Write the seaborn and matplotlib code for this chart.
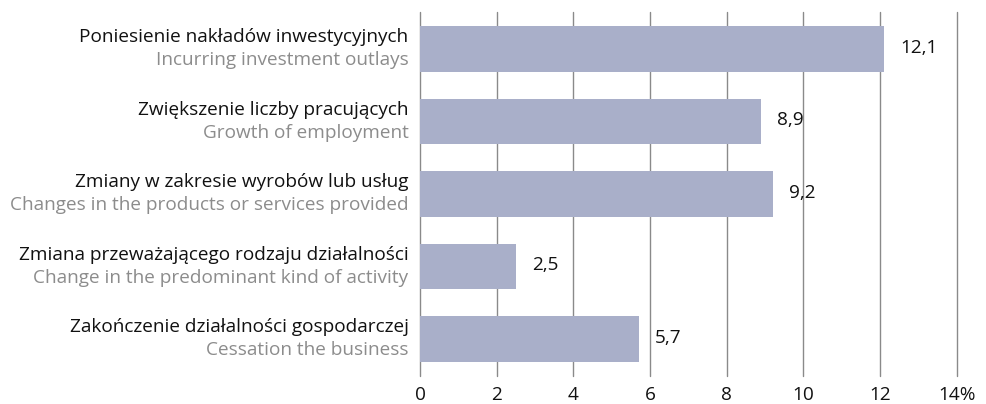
import matplotlib
matplotlib.use("Agg")
import matplotlib.pyplot as plt
import seaborn as sns
import pandas as pd

labels_pl = [
    "Poniesienie nakładów inwestycyjnych",
    "Zwiększenie liczby pracujących",
    "Zmiany w zakresie wyrobów lub usług",
    "Zmiana przeważającego rodzaju działalności",
    "Zakończenie działalności gospodarczej",
]
labels_en = [
    "Incurring investment outlays",
    "Growth of employment",
    "Changes in the products or services provided",
    "Change in the predominant kind of activity",
    "Cessation the business",
]
values = [12.1, 8.9, 9.2, 2.5, 5.7]
x_ticks = [0, 2, 4, 6, 8, 10, 12, 14]
x_tick_labels = ["0", "2", "4", "6", "8", "10", "12", "14%"]

df = pd.DataFrame({"cat": labels_pl, "value": values})

sns.set_theme(style="white")
plt.rcParams["font.family"] = ["Open Sans", "DejaVu Sans"]

fig = plt.figure(figsize=(9.86, 4.04), dpi=100)
ax = fig.add_axes([0.426, 0.0693, 0.5444, 0.9010])

BAR = "#a9afc9"
GRID = "#8a8a8a"
FS = 13.7

for t in x_ticks:
    ax.axvline(t, color=GRID, lw=1.0, zorder=0, clip_on=False)

sns.barplot(data=df, x="value", y="cat", orient="h", color=BAR,
            saturation=1, width=0.63, linewidth=0, ax=ax, zorder=2)

ax.set_xlim(0, 14)
ax.set_ylim(4.51, -0.51)
ax.set_xticks(x_ticks)
ax.set_xticklabels(x_tick_labels, fontsize=FS, color="#111111")
ax.tick_params(axis="x", length=0, pad=7)
ax.set_yticks([])
ax.set_xlabel("")
ax.set_ylabel("")
for s in ax.spines.values():
    s.set_visible(False)

for i, (pl, en, v) in enumerate(zip(labels_pl, labels_en, values)):
    ax.text(-0.3, i - 0.165, pl, ha="right", va="center", fontsize=FS,
            color="#111111")
    ax.text(-0.3, i + 0.155, en, ha="right", va="center", fontsize=FS,
            color="#8c8c8c")
    ax.text(v + 0.42, i - 0.02, f"{v:.1f}".replace(".", ","), ha="left",
            va="center", fontsize=FS, color="#111111")

fig.savefig("out.png", dpi=100)
